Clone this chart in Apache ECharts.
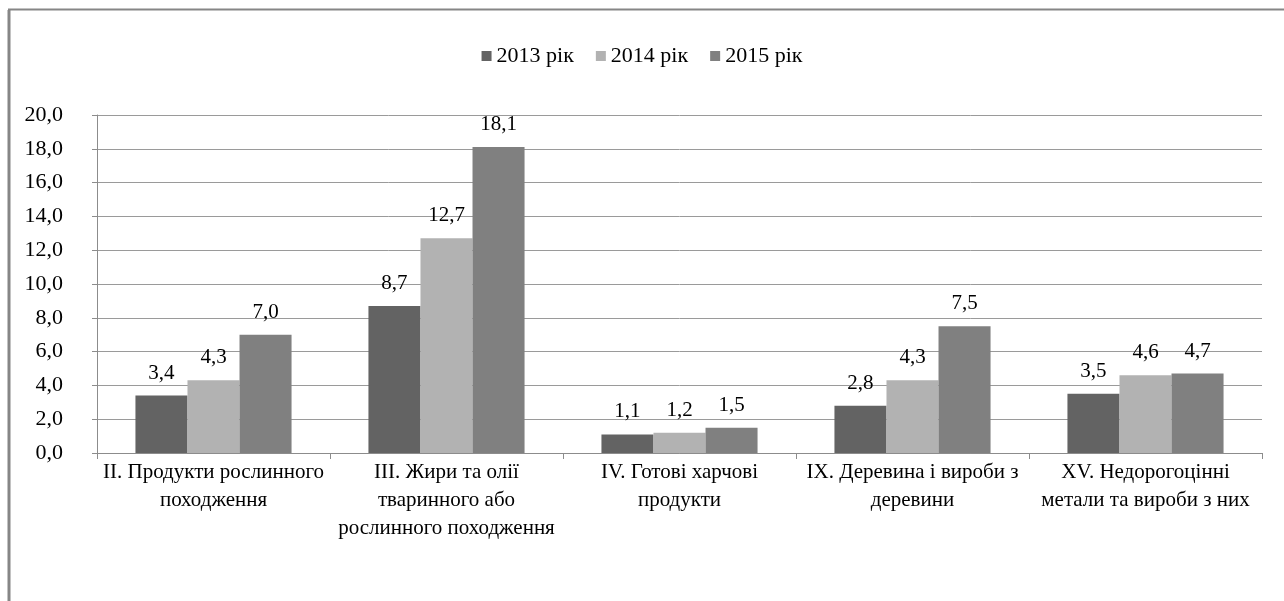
<!DOCTYPE html>
<html><head><meta charset="utf-8">
<script src="https://cdn.jsdelivr.net/npm/echarts@6/dist/echarts.min.js"></script>
<style>html,body{margin:0;padding:0;background:#fff}#c{width:1284px;height:601px}</style>
</head><body><div id="c"></div>
<script>
const categories = [
  'II. Продукти рослинного\nпоходження',
  'III. Жири та олії\nтваринного або\nрослинного походження',
  'IV. Готові харчові\nпродукти',
  'IX. Деревина і вироби з\nдеревини',
  'XV. Недорогоцінні\nметали та вироби з них'
];
const seriesNames = ['2013 рік', '2014 рік', '2015 рік'];
const v2013 = [3.4, 8.7, 1.1, 2.8, 3.5];
const v2014 = [4.3, 12.7, 1.2, 4.3, 4.6];
const v2015 = [7.0, 18.1, 1.5, 7.5, 4.7];
const colors = ['#636363', '#b2b2b2', '#808080'];
const FONT = '"Liberation Serif", "DejaVu Serif", serif';
const fmt = v => v.toFixed(1).replace('.', ',');

const chart = echarts.init(document.getElementById('c'));
const mk = (name, data, i) => ({
  name, type: 'bar', data, barGap: '0%', barCategoryGap: '33%',
  itemStyle: { color: colors[i] },
  label: { show: true, position: 'top', distance: 12, fontFamily: FONT, fontSize: 21, color: '#000',
    formatter: p => fmt(p.value) }
});
chart.setOption({
  animation: false,
  textStyle: { fontFamily: FONT },
  graphic: [
    { type: 'line', shape: { x1: 9, y1: 10, x2: 9, y2: 601 }, style: { stroke: '#868686', lineWidth: 3 } },
    { type: 'line', shape: { x1: 8, y1: 9.5, x2: 1284, y2: 9.5 }, style: { stroke: '#868686', lineWidth: 2 } }
  ],
  legend: {
    top: 40, left: 'center', itemWidth: 10, itemHeight: 10, itemGap: 22,
    icon: 'rect',
    textStyle: { fontFamily: FONT, fontSize: 22, color: '#000' },
    data: seriesNames
  },
  grid: { left: 97, right: 22, top: 115, bottom: 148, containLabel: false },
  xAxis: {
    type: 'category', data: categories,
    axisLine: { lineStyle: { color: '#8c8c8c', width: 1 } },
    axisTick: { show: true, length: 6, lineStyle: { color: '#8c8c8c' } },
    axisLabel: { fontFamily: FONT, fontSize: 21, color: '#000', lineHeight: 28, margin: 5, interval: 0 }
  },
  yAxis: {
    type: 'value', min: 0, max: 20, interval: 2,
    axisLine: { show: true, lineStyle: { color: '#8c8c8c' } },
    axisTick: { show: true, length: 5, lineStyle: { color: '#8c8c8c' } },
    splitLine: { lineStyle: { color: '#9a9a9a', width: 1 } },
    axisLabel: { fontFamily: FONT, fontSize: 22, color: '#000', margin: 34, formatter: v => fmt(v) }
  },
  series: [mk(seriesNames[0], v2013, 0), mk(seriesNames[1], v2014, 1), mk(seriesNames[2], v2015, 2)]
});
</script></body></html>
